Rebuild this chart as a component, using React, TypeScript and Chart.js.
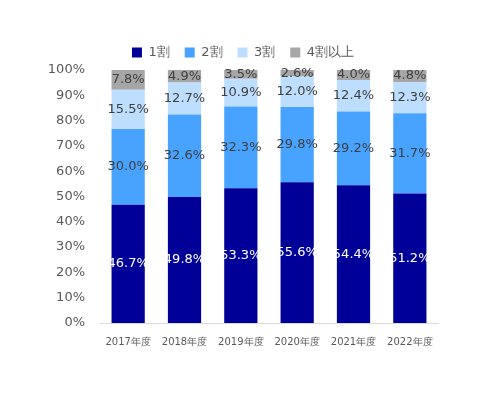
import React, { useEffect, useRef } from "react";
import { Chart, registerables } from "chart.js";

Chart.register(...registerables);

const categories = ["2017年度", "2018年度", "2019年度", "2020年度", "2021年度", "2022年度"];
const seriesNames = ["1割", "2割", "3割", "4割以上"];
const share1 = [46.7, 49.8, 53.3, 55.6, 54.4, 51.2];
const share2 = [30.0, 32.6, 32.3, 29.8, 29.2, 31.7];
const share3 = [15.5, 12.7, 10.9, 12.0, 12.4, 12.3];
const share4 = [7.8, 4.9, 3.5, 2.6, 4.0, 4.8];
const colors = ["#000099", "#47A3FF", "#BDDEFF", "#A6A6A6"];
const labelColors = ["#FFFFFF", "#404040", "#404040", "#404040"];

const FONT = "Verdana, 'DejaVu Sans', sans-serif";

const labelPlugin = {
  id: "segLabels",
  beforeLayout(chart: any) {
    const lg = chart.legend;
    if (lg && !lg._patched) {
      lg._patched = true;
      const f = lg.fit.bind(lg);
      lg.fit = function () {
        f();
        this.height += 3;
      };
      const d = lg.draw.bind(lg);
      lg.draw = function (a: any) {
        chart.ctx.save();
        chart.ctx.translate(2, 2);
        d(a);
        chart.ctx.restore();
      };
    }
  },
  afterDatasetsDraw(chart: any) {
    const ctx = chart.ctx;
    ctx.save();
    ctx.font = `13px ${FONT}`;
    ctx.textAlign = "center";
    ctx.textBaseline = "middle";
    chart.data.datasets.forEach((ds: any, i: number) => {
      const meta = chart.getDatasetMeta(i);
      meta.data.forEach((el: any, j: number) => {
        const p = el.getProps(["x", "y", "base"], true);
        ctx.fillStyle = labelColors[i];
        ctx.fillText(ds.data[j].toFixed(1) + "%", p.x, (p.y + p.base) / 2);
      });
    });
    ctx.restore();
  },
};

export default function App() {
  const ref = useRef<HTMLCanvasElement>(null);
  useEffect(() => {
    const values = [share1, share2, share3, share4];
    const chart = new Chart(ref.current!, {
      type: "bar",
      data: {
        labels: categories,
        datasets: seriesNames.map((n, i) => ({
          label: n,
          data: values[i],
          backgroundColor: colors[i],
          borderWidth: 0,
          barPercentage: 0.59,
          categoryPercentage: 1,
        })),
      },
      options: {
        responsive: false,
        animation: false,
        layout: { padding: { left: 44, right: 42, top: 29, bottom: 0 } },
        plugins: {
          legend: {
            position: "top",
            labels: {
              boxWidth: 10,
              boxHeight: 10,
              padding: 15,
              color: "#595959",
              font: { family: FONT, size: 13 },
            },
          },
          tooltip: { enabled: false },
        },
        scales: {
          x: {
            stacked: true,
            grid: { display: false, drawTicks: false },
            border: { display: true, color: "#D9D9D9" },
            ticks: { color: "#595959", font: { family: FONT, size: 10 }, padding: 13 },
            afterFit: (s: any) => { s.height = 72; },
          },
          y: {
            stacked: true,
            min: 0,
            max: 100,
            grid: { display: false, drawTicks: false },
            border: { display: false },
            ticks: {
              stepSize: 10,
              padding: 15,
              color: "#595959",
              font: { family: FONT, size: 13 },
              callback: (v: any) => v + "%",
            },
            afterFit: (s: any) => { s.width = 56; },
          },
        },
      },
      plugins: [labelPlugin],
    });
    return () => chart.destroy();
  }, []);
  return (
    <div style={{ position: "fixed", left: 0, top: 0, width: 480, height: 395, background: "#fff" }}>
      <canvas ref={ref} width={480} height={395} />
    </div>
  );
}
